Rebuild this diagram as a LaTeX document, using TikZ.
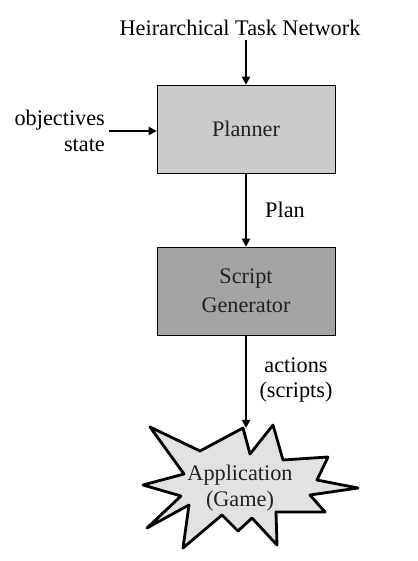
\documentclass[tikz,border=0pt]{standalone}
\usepackage{fontspec}
\setmainfont{Liberation Serif}
\usepackage{tikz}
\usetikzlibrary{arrows.meta}
\definecolor{plancol}{HTML}{CBCBCB}
\definecolor{gencol}{HTML}{A4A4A4}
\definecolor{appcol}{HTML}{E2E2E2}
\definecolor{boxtext}{HTML}{222222}

\begin{document}
\begin{tikzpicture}[x=0.03cm, y=-0.03cm,
  block/.style={draw, thin, minimum width=5.34cm, minimum height=2.64cm,
    inner sep=0pt, font=\fontsize{19}{25}\selectfont, text=boxtext, align=center},
  lbl/.style={font=\fontsize{19}{22}\selectfont, align=center},
  arr/.style={-{Triangle[length=7pt,width=7pt]}, line width=1.6pt}
]
  \useasboundingbox (0,0) rectangle (417,561);
  \node[lbl] (htn) at (240,28) {Heirarchical Task Network};
  \node[lbl, align=right, anchor=east] (objs) at (109,131) {objectives\\state};
  \node[block, fill=plancol] (planner) at (246,129) {Planner};
  \node[block, fill=gencol] (gen) at (246,291) {Script\\Generator};
  % starburst for the game
  \draw[line width=2.4pt, line join=round, fill=appcol]
    (150,427) -- (200,451) -- (243,428) -- (250,454) -- (273,425) -- (283,460)
    -- (328,457) -- (317,480) -- (358,488) -- (310,495) -- (325,512) -- (276,512)
    -- (277,545) -- (252,518) -- (238,531) -- (222,515) -- (183,548) -- (189,505)
    -- (147,528) -- (181,496) -- (143,485) -- (184,474) -- cycle;
  \node[lbl, text=boxtext] (app) at (240,488) {Application\\(Game)};
  \coordinate (apptop) at (246,428);
  \draw[arr] (htn.south -| planner.north) -- (planner.north);
  \draw[arr] (objs.east) -- (objs.east -| planner.west);
  \draw[arr] (planner) -- (gen);
  \draw[arr] (gen) -- (apptop);
  \node[lbl] (plan) at (285,210) {Plan};
  \node[lbl] (acts) at (296,380) {actions\\(scripts)};
\end{tikzpicture}
\end{document}
